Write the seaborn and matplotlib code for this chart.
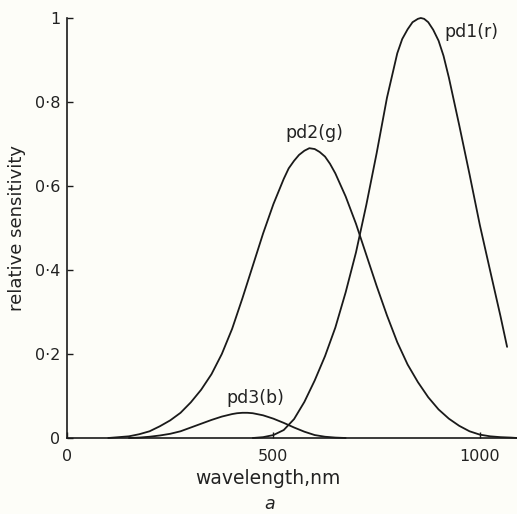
import matplotlib
matplotlib.use("Agg")
import matplotlib.pyplot as plt
import seaborn as sns
import pandas as pd

# Wavelength grids (nm) and relative sensitivities of the three photodiodes
wl_r = [450, 475, 500, 525, 550, 575, 600, 625, 650, 675, 700, 725, 750, 775,
        800, 812, 825, 837, 850, 857, 865, 875, 887, 900, 912, 925, 950, 975,
        1000, 1025, 1050, 1066]
pd1_r = [0.000, 0.002, 0.007, 0.019, 0.045, 0.086, 0.137, 0.195, 0.263, 0.347,
         0.442, 0.555, 0.678, 0.810, 0.916, 0.950, 0.973, 0.990, 0.998, 1.000,
         0.998, 0.990, 0.972, 0.946, 0.910, 0.858, 0.745, 0.628, 0.507, 0.398,
         0.290, 0.217]

wl_g = [100, 125, 150, 175, 200, 225, 250, 275, 300, 325, 350, 375, 400, 425,
        450, 475, 500, 525, 537, 550, 562, 575, 587, 600, 612, 625, 637, 650,
        675, 700, 725, 750, 775, 800, 825, 850, 875, 900, 925, 950, 975, 1000,
        1025, 1050, 1075, 1090]
pd2_g = [0.000, 0.002, 0.004, 0.009, 0.016, 0.028, 0.042, 0.060, 0.085, 0.115,
         0.152, 0.200, 0.260, 0.333, 0.410, 0.487, 0.557, 0.617, 0.642, 0.660,
         0.674, 0.684, 0.690, 0.688, 0.681, 0.670, 0.653, 0.630, 0.575, 0.510,
         0.436, 0.362, 0.292, 0.228, 0.175, 0.133, 0.097, 0.068, 0.046, 0.029,
         0.016, 0.008, 0.004, 0.002, 0.001, 0.000]

wl_b = [150, 175, 200, 225, 250, 275, 300, 325, 350, 375, 400, 412, 425, 437,
        450, 475, 500, 525, 550, 575, 600, 625, 650, 675]
pd3_b = [0.000, 0.001, 0.003, 0.006, 0.010, 0.016, 0.025, 0.034, 0.043, 0.051,
         0.057, 0.059, 0.060, 0.060, 0.059, 0.054, 0.046, 0.036, 0.025, 0.015,
         0.007, 0.003, 0.001, 0.000]

y_ticks = [0, 0.2, 0.4, 0.6, 0.8, 1.0]
y_tick_labels = ["0", "0·2", "0·4", "0·6", "0·8", "1"]
x_ticks = [0, 500, 1000]
x_tick_labels = ["0", "500", "1000"]

curve_labels = [("pd1(r)", 915, 0.967, "left"),
                ("pd2(g)", 600, 0.726, "center"),
                ("pd3(b)", 455, 0.095, "center")]

sns.set_theme(style="ticks")
plt.rcParams["font.family"] = ["DejaVu Sans"]
paper = "#fdfdf8"
ink = "#1a1a1a"
text_ink = "#222222"

fig = plt.figure(figsize=(5.17, 5.14), dpi=100, facecolor=paper)
ax = fig.add_axes([67 / 517, 76 / 514, 450 / 517, 420 / 514])
ax.set_facecolor(paper)

for wl, vals in [(wl_r, pd1_r), (wl_g, pd2_g), (wl_b, pd3_b)]:
    df = pd.DataFrame({"wavelength": wl, "sensitivity": vals})
    sns.lineplot(data=df, x="wavelength", y="sensitivity", ax=ax,
                 color=ink, linewidth=1.3, clip_on=False)

ax.set_xlim(0, 1090)
ax.set_ylim(0, 1)
ax.set_xticks(x_ticks)
ax.set_xticklabels(x_tick_labels)
ax.set_yticks(y_ticks)
ax.set_yticklabels(y_tick_labels)
ax.tick_params(direction="in", length=4, width=1.0, color=ink,
               labelsize=11.5, labelcolor=text_ink)
ax.tick_params(axis="y", pad=5)
ax.tick_params(axis="x", pad=8)

for side in ["top", "right"]:
    ax.spines[side].set_visible(False)
for side in ["left", "bottom"]:
    ax.spines[side].set_color(ink)
    ax.spines[side].set_linewidth(1.2)

ax.set_xlabel("wavelength,nm", fontsize=13.5, color=text_ink)
ax.xaxis.set_label_coords((268 - 67) / 450, -0.074)
ax.set_ylabel("relative sensitivity", fontsize=13, color=text_ink)
ax.yaxis.set_label_coords((26 - 67) / 450, 0.5)

for text, x, y, ha in curve_labels:
    ax.text(x, y, text, ha=ha, va="center", fontsize=12.5, color=text_ink)

fig.text(270 / 517, 1 - 504 / 514, "a", ha="center", va="center",
         fontsize=12.5, style="italic", color=text_ink)

fig.savefig("out.png", dpi=100, facecolor=paper)
